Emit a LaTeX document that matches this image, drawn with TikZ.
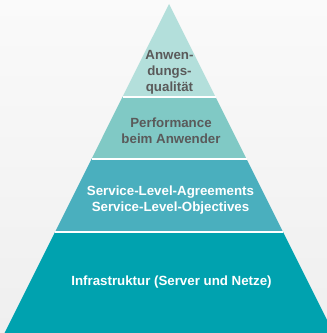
\documentclass[tikz,border=0pt]{standalone}
\usepackage{fontspec}
\setmainfont{Liberation Sans}
\definecolor{bgtop}{HTML}{FAFAFA}
\definecolor{bgbot}{HTML}{EFEFEF}
\definecolor{tierA}{HTML}{B3DFDB}
\definecolor{tierB}{HTML}{80C9C5}
\definecolor{tierC}{HTML}{4AAFBE}
\definecolor{tierD}{HTML}{00A2AF}
\definecolor{darktext}{HTML}{5A5A5A}
\tikzset{
  tierlabel/.style={align=center,font=\fontsize{13.3}{16}\selectfont\bfseries,inner sep=0pt},
  darklabel/.style={tierlabel,text=darktext},
  lightlabel/.style={tierlabel,text=white},
  separator/.style={white,line width=1.8pt}
}
\begin{document}
\begin{tikzpicture}[x=1pt,y=1pt]
\useasboundingbox (0,0) rectangle (327,333);
\shade[top color=bgtop,bottom color=bgbot] (0,0) rectangle (327,333);
\clip (0,0) rectangle (327,333);
\coordinate (apex) at (169,329);
\coordinate (L1) at (122.5,236); \coordinate (R1) at (215.5,236);
\coordinate (L2) at (91.5,174);  \coordinate (R2) at (246.5,174);
\coordinate (L3) at (55,101);    \coordinate (R3) at (283,101);
\coordinate (L4) at (1,-7);      \coordinate (R4) at (337,-7);
\fill[tierA] (apex) -- (R1) -- (L1) -- cycle;
\fill[tierB] (L1) -- (R1) -- (R2) -- (L2) -- cycle;
\fill[tierC] (L2) -- (R2) -- (R3) -- (L3) -- cycle;
\fill[tierD] (L3) -- (R3) -- (R4) -- (L4) -- cycle;
\draw[separator] (L1) -- (R1);
\draw[separator] (L2) -- (R2);
\draw[separator] (L3) -- (R3);
\node[darklabel] (t1) at (169.5,260.5) {Anwen-\\dungs-\\qualität};
\node[darklabel] (t2) at (171,202) {Performance\\beim Anwender};
\node[lightlabel] (t3) at (170.5,133) {Service-Level-Agreements\\Service-Level-Objectives};
\node[lightlabel] (t4) at (171.5,51) {Infrastruktur (Server und Netze)};
\end{tikzpicture}
\end{document}
